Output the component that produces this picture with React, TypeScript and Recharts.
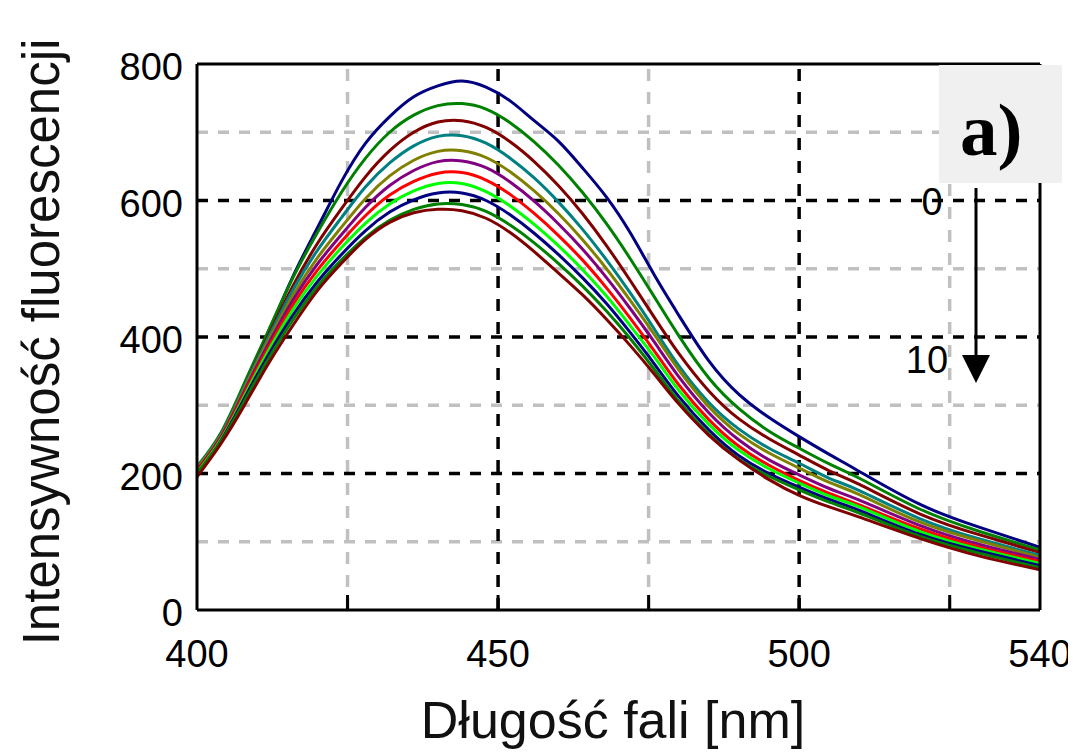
import React from "react";
import { LineChart, Line, XAxis, YAxis, ReferenceLine } from "recharts";

// Wavelength (nm)
const wavelengths = [400, 404, 408, 412, 416, 420, 424, 428, 432, 436, 440, 444, 448, 452, 456, 460, 464, 468, 472, 476, 480, 485, 490, 495, 500, 505, 510, 520, 530, 540];

// Fluorescence intensity, spectra 0..10
const s0 = [206, 258, 332, 410, 490, 560, 628, 684, 723, 752, 768, 775, 766, 746, 717, 687, 648, 605, 552, 490, 432, 365, 316, 282, 254, 228, 203, 155, 121, 92];
const s1 = [210, 260, 335, 412, 488, 553, 612, 662, 700, 725, 739, 742, 734, 714, 686, 652, 612, 566, 514, 458, 402, 340, 295, 262, 237, 214, 193, 148, 115, 88];
const s2 = [207, 257, 330, 405, 476, 537, 588, 635, 673, 700, 715, 717, 707, 686, 657, 622, 581, 534, 482, 428, 376, 321, 280, 251, 227, 204, 184, 141, 110, 84];
const s3 = [209, 258, 330, 402, 470, 527, 575, 620, 655, 680, 694, 695, 684, 662, 633, 598, 558, 513, 464, 411, 358, 304, 265, 237, 215, 193, 175, 134, 104, 80];
const s4 = [208, 256, 327, 397, 462, 516, 561, 603, 636, 659, 672, 673, 663, 642, 614, 581, 543, 500, 453, 403, 352, 298, 258, 230, 208, 187, 169, 129, 101, 77];
const s5 = [205, 254, 323, 392, 455, 507, 550, 590, 622, 644, 657, 658, 648, 627, 599, 566, 529, 487, 441, 392, 342, 289, 249, 220, 198, 178, 161, 124, 96, 74];
const s6 = [203, 252, 320, 387, 448, 498, 540, 578, 608, 628, 640, 641, 630, 609, 581, 549, 513, 472, 427, 379, 330, 279, 240, 212, 190, 171, 154, 119, 92, 71];
const s7 = [201, 250, 316, 382, 441, 490, 531, 567, 595, 614, 625, 625, 613, 592, 565, 534, 499, 460, 416, 370, 322, 272, 234, 207, 186, 167, 151, 115, 89, 68];
const s8 = [199, 248, 312, 376, 433, 481, 521, 556, 583, 601, 611, 611, 600, 579, 552, 521, 487, 449, 406, 360, 313, 264, 226, 200, 180, 162, 146, 111, 86, 65];
const s9 = [200, 247, 308, 370, 426, 474, 513, 546, 571, 587, 595, 594, 584, 564, 538, 508, 475, 438, 397, 352, 306, 258, 221, 196, 176, 158, 142, 108, 83, 62];
const s10 = [195, 244, 302, 363, 418, 468, 508, 543, 568, 582, 587, 585, 574, 553, 525, 494, 462, 426, 387, 345, 302, 256, 220, 191, 168, 151, 136, 105, 79, 59];

const seriesValues = [s0, s1, s2, s3, s4, s5, s6, s7, s8, s9, s10];
const seriesColors = ["#000080", "#008000", "#800000", "#008080", "#808000", "#800080", "#ff0000", "#00ff00", "#000080", "#008000", "#800000"];

// Axis ticks and grid
const xTickLabels = [400, 450, 500, 540];
const xInnerTicks = [425, 450, 475, 500, 525];
const yTickLabels = [0, 200, 400, 600, 800];
const yInnerTicks = [100, 200, 300, 400, 500, 600, 700];
const yRightTicks = [200, 400, 600];
const xMajorGrid = [450, 500];
const xMinorGrid = [425, 475, 525];
const yMajorGrid = [200, 400, 600];
const yMinorGrid = [100, 300, 500, 700];

const xTitle = "Długość fali [nm]";
const yTitle = "Intensywność fluorescencji";
const panelTag = "a)";
const arrowStart = "0";
const arrowEnd = "10";

const data = wavelengths.map((x, i) => {
  const row: Record<string, number> = { x };
  seriesValues.forEach((s, k) => {
    row["s" + k] = s[i];
  });
  return row;
});

const FONT = "'Liberation Sans', Arial, sans-serif";
const W = 1068;
const H = 744;

const InnerTickBottom = (props: any) => (
  <line x1={props.x} x2={props.x} y1={props.y} y2={props.y - 15} stroke="#000" strokeWidth={3} />
);
const InnerTickLeft = (props: any) => (
  <line x1={props.x} x2={props.x + 15} y1={props.y} y2={props.y} stroke="#000" strokeWidth={3} />
);
const InnerTickRight = (props: any) => (
  <line x1={props.x} x2={props.x - 8} y1={props.y} y2={props.y} stroke="#000" strokeWidth={3} />
);

export default function App() {
  return (
    <div style={{ position: "relative", width: W, height: H }}>
      <LineChart width={W} height={H} data={data} margin={{ top: 56, right: 36, bottom: 0, left: 0 }}>
        {xMinorGrid.map((v) => (
          <ReferenceLine key={"xm" + v} x={v} stroke="#c0c0c0" strokeWidth={3.5} strokeDasharray="12 11" />
        ))}
        {yMinorGrid.map((v) => (
          <ReferenceLine key={"ym" + v} y={v} stroke="#c0c0c0" strokeWidth={3.5} strokeDasharray="11 10" />
        ))}
        {xMajorGrid.map((v) => (
          <ReferenceLine key={"xM" + v} x={v} stroke="#000" strokeWidth={3.5} strokeDasharray="12 11" />
        ))}
        {yMajorGrid.map((v) => (
          <ReferenceLine key={"yM" + v} y={v} stroke="#000" strokeWidth={3.5} strokeDasharray="11 10" />
        ))}
        <XAxis
          dataKey="x"
          type="number"
          domain={[400, 540]}
          ticks={xTickLabels}
          allowDataOverflow
          height={142}
          tickLine={false}
          tickSize={0}
          tickMargin={30}
          axisLine={{ stroke: "#000", strokeWidth: 3 }}
          tick={{ fontSize: 38, fill: "#000", fontFamily: FONT }}
          interval={0}
        />
        <XAxis
          xAxisId="inner"
          dataKey="x"
          type="number"
          domain={[400, 540]}
          ticks={xInnerTicks}
          mirror
          height={30}
          tick={InnerTickBottom}
          tickSize={0}
          tickMargin={0}
          tickLine={false}
          axisLine={false}
          interval={0}
        />
        <XAxis
          xAxisId="top"
          orientation="top"
          dataKey="x"
          type="number"
          domain={[400, 540]}
          mirror
          height={30}
          tick={false}
          tickLine={false}
          axisLine={{ stroke: "#000", strokeWidth: 3 }}
        />
        <YAxis
          type="number"
          domain={[0, 800]}
          ticks={yTickLabels}
          width={189}
          tickLine={false}
          tickSize={0}
          tickMargin={14}
          axisLine={{ stroke: "#000", strokeWidth: 3 }}
          tick={{ fontSize: 38, fill: "#000", fontFamily: FONT, dy: 3 }}
          interval={0}
        />
        <YAxis
          yAxisId="inner"
          type="number"
          domain={[0, 800]}
          ticks={yInnerTicks}
          mirror
          width={30}
          tick={InnerTickLeft}
          tickSize={0}
          tickMargin={0}
          tickLine={false}
          axisLine={false}
          interval={0}
        />
        <YAxis
          yAxisId="right"
          orientation="right"
          type="number"
          domain={[0, 800]}
          ticks={yRightTicks}
          mirror
          width={30}
          tick={InnerTickRight}
          tickSize={0}
          tickMargin={0}
          tickLine={false}
          axisLine={{ stroke: "#000", strokeWidth: 3 }}
          interval={0}
        />
        {seriesValues.map((_, k) => (
          <Line
            key={k}
            type="natural"
            dataKey={"s" + k}
            stroke={seriesColors[k]}
            strokeWidth={3}
            dot={false}
            activeDot={false}
            isAnimationActive={false}
          />
        ))}
      </LineChart>
      <svg width={W} height={H} style={{ position: "absolute", left: 0, top: 0, pointerEvents: "none" }}>
        <text x={33} y={334} transform="rotate(-90 33 334)" textAnchor="middle" dominantBaseline="central" fontSize={51} fontFamily={FONT} fill="#111">
          {yTitle}
        </text>
        <text x={605} y={730} textAnchor="middle" fontSize={52} fontFamily={FONT} fill="#111">
          {xTitle}
        </text>
        <rect x={931} y={57} width={123} height={118} fill="#f0f0f0" />
        <text x={952} y={147} fontSize={75} fontWeight="bold" fontFamily="'Liberation Serif', 'Times New Roman', serif" fill="#000">
          {panelTag}
        </text>
        <text x={924} y={207} textAnchor="middle" fontSize={38} fontFamily={FONT} fill="#000">
          {arrowStart}
        </text>
        <text x={919} y={365} textAnchor="middle" fontSize={38} fontFamily={FONT} fill="#000">
          {arrowEnd}
        </text>
        <line x1={968} y1={180} x2={968} y2={352} stroke="#000" strokeWidth={3} />
        <polygon points="954,347 982,347 968,375" fill="#000" />
      </svg>
    </div>
  );
}
